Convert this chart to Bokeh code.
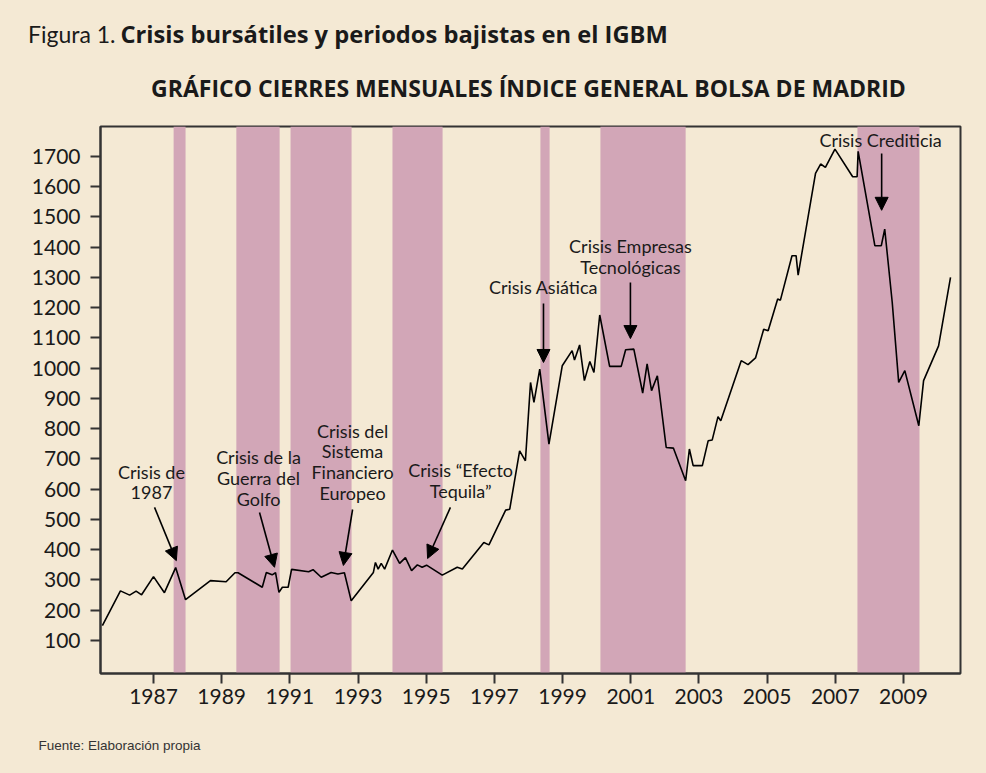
from bokeh.plotting import figure
from bokeh.models import Range1d, Arrow, NormalHead, FixedTicker
from bokeh.layouts import column, row
from bokeh.core.properties import value
from bokeh.embed import file_html
from bokeh.resources import INLINE

# ---- data ----
years = [1985.50, 1986.03, 1986.30, 1986.49, 1986.65, 1987.00, 1987.32, 1987.65, 1987.94,
         1988.67, 1989.13, 1989.39, 1989.48, 1990.19, 1990.31, 1990.48, 1990.58, 1990.68,
         1990.78, 1990.95, 1991.05, 1991.55, 1991.68, 1991.92, 1992.21, 1992.41, 1992.60,
         1992.80, 1993.45, 1993.51, 1993.59, 1993.68, 1993.78, 1994.01, 1994.22, 1994.39,
         1994.57, 1994.74, 1994.88, 1995.01, 1995.47, 1995.91, 1996.06, 1996.69, 1996.84,
         1997.33, 1997.45, 1997.74, 1997.91, 1998.06, 1998.16, 1998.33, 1998.60, 1998.99,
         1999.28, 1999.35, 1999.50, 1999.64, 1999.80, 1999.92, 2000.09, 2000.38, 2000.72,
         2000.85, 2001.09, 2001.35, 2001.48, 2001.61, 2001.78, 2002.04, 2002.25, 2002.61,
         2002.72, 2002.83, 2003.10, 2003.27, 2003.39, 2003.56, 2003.64, 2004.24, 2004.44,
         2004.66, 2004.90, 2005.03, 2005.31, 2005.39, 2005.73, 2005.85, 2005.91, 2006.42,
         2006.57, 2006.71, 2006.99, 2007.51, 2007.64, 2007.67, 2008.16, 2008.35, 2008.45,
         2008.67, 2008.86, 2009.04, 2009.45, 2009.59, 2010.03, 2010.38]
igbm = [149, 264, 250, 263, 251, 311, 258, 341, 235,
        298, 294, 324, 324, 276, 325, 317, 324, 259,
        276, 276, 335, 327, 334, 309, 325, 320, 324,
        231, 325, 358, 336, 355, 336, 399, 355, 374,
        331, 350, 342, 349, 316, 342, 336, 424, 416,
        531, 534, 727, 694, 953, 887, 997, 749, 1008,
        1058, 1027, 1077, 959, 1022, 986, 1176, 1006, 1006,
        1061, 1063, 918, 1014, 926, 975, 738, 736, 628,
        733, 678, 678, 760, 763, 840, 826, 1025, 1012,
        1034, 1129, 1124, 1229, 1225, 1372, 1372, 1308, 1644,
        1675, 1664, 1724, 1633, 1633, 1717, 1405, 1405, 1460,
        1218, 953, 992, 810, 959, 1074, 1300]

crisis_start = [1987.59, 1989.43, 1991.02, 1994.01, 1998.35, 2000.11, 2007.65]
crisis_end = [1987.94, 1990.70, 1992.81, 1995.48, 1998.62, 2002.61, 2009.47]

x_ticks = [1987, 1989, 1991, 1993, 1995, 1997, 1999, 2001, 2003, 2005, 2007, 2009]
y_ticks = [100, 200, 300, 400, 500, 600, 700, 800, 900, 1000, 1100, 1200, 1300, 1400, 1500, 1600, 1700]

# annotation texts: (lines, text x, first line y, arrow start, arrow end)
notes = [
    (["Crisis de", "1987"], 1986.94, 657, (1987.03, 540), (1987.67, 364)),
    (["Crisis de la", "Guerra del", "Golfo"], 1990.08, 705, (1990.11, 523), (1990.55, 342)),
    (["Crisis del", "Sistema", "Financiero", "Europeo"], 1992.84, 794, (1992.84, 533), (1992.57, 348)),
    (["Crisis \u201cEfecto", "Tequila\u201d"], 1996.01, 662, (1995.71, 540), (1995.04, 371)),
    (["Crisis Asi\u00e1tica"], 1998.44, 1270, (1998.44, 1214), (1998.44, 1019)),
    (["Crisis Empresas", "Tecnol\u00f3gicas"], 2000.99, 1403, (2000.99, 1283), (2000.99, 1098)),
    (["Crisis Crediticia"], 2008.33, 1756, (2008.36, 1710), (2008.36, 1522)),
]

TITLE_A = "Figura 1."
TITLE_B = "Crisis burs\u00e1tiles y periodos bajistas en el IGBM"
SUBTITLE = "GR\u00c1FICO CIERRES MENSUALES \u00cdNDICE GENERAL BOLSA DE MADRID"
SOURCE = "Fuente: Elaboraci\u00f3n propia"

BG = "#F4E9D4"
BAND = "#D2A6B7"
INK = "#1a1a1a"
FONT = "Lato"
BOLD_FONT = "Open Sans"
W = 986
HEAD_H, MAIN_H = 110, 615
FOOT_H = 773 - HEAD_H - MAIN_H


def blank(h):
    f = figure(width=W, height=h, output_backend="svg", toolbar_location=None,
               x_range=Range1d(0, W), y_range=Range1d(h, 0),
               min_border=0, min_border_left=0, min_border_right=0,
               min_border_top=0, min_border_bottom=0,
               x_axis_type=None, y_axis_type=None)
    f.background_fill_color = BG
    f.border_fill_color = BG
    f.outline_line_color = None
    f.grid.grid_line_color = None
    return f


head = blank(HEAD_H)
head.text(x=[115], y=[33], text=[TITLE_A], text_align="right", text_baseline="middle",
          text_font=value(FONT), text_font_size="23px", text_color=INK)
head.text(x=[120], y=[33], text=[TITLE_B], text_align="left", text_baseline="middle",
          text_font=value(BOLD_FONT), text_font_style="bold", text_font_size="23.7px",
          text_color=INK)
head.text(x=[528], y=[87], text=[SUBTITLE], text_align="center", text_baseline="middle",
          text_font=value(BOLD_FONT), text_font_style="bold", text_font_size="23px",
          text_color=INK)

foot = blank(FOOT_H)
foot.text(x=[38], y=[745 - HEAD_H - MAIN_H], text=[SOURCE], text_align="left",
          text_baseline="middle", text_font=value("Liberation Sans"),
          text_font_size="13.5px", text_color="#333333")

Y0, Y1 = -9.1, 1799
p = figure(width=W, height=MAIN_H, output_backend="svg", toolbar_location=None,
           x_range=Range1d(1985.445, 2010.673), y_range=Range1d(Y0, Y1),
           min_border_left=100, min_border_right=26, min_border_top=126 - HEAD_H,
           min_border_bottom=MAIN_H - (673 - HEAD_H))
p.background_fill_color = BG
p.border_fill_color = BG
p.outline_line_color = "#333333"
p.outline_line_width = 2
p.outline_line_alpha = 1
p.grid.grid_line_color = None

p.quad(left=crisis_start, right=crisis_end, bottom=Y0, top=Y1,
       fill_color=BAND, line_color=None)
p.line(years, igbm, line_color="black", line_width=1.6)

lx, ly, lt = [], [], []
step = 69
for lines, tx, ty, a0, a1 in notes:
    for i, t in enumerate(lines):
        lx.append(tx)
        ly.append(ty - i * step)
        lt.append(t)
    p.add_layout(Arrow(end=NormalHead(size=13, fill_color="black", line_color="black"),
                       x_start=a0[0], y_start=a0[1], x_end=a1[0], y_end=a1[1],
                       line_color="black", line_width=1.6))
p.text(x=lx, y=ly, text=lt, text_align="center", text_baseline="middle",
       text_font=value(FONT), text_font_size="18px", text_color=INK)

for ax in (p.xaxis, p.yaxis):
    ax.axis_line_color = "#333333"
    ax.axis_line_width = 2
    ax.major_tick_line_color = "#333333"
    ax.major_tick_line_width = 2
    ax.major_tick_in = 0
    ax.major_tick_out = 10
    ax.minor_tick_line_color = None
    ax.major_label_text_font = FONT
    ax.major_label_text_font_size = "21px"
    ax.major_label_text_color = INK
p.xaxis.ticker = FixedTicker(ticks=x_ticks)
p.yaxis.ticker = FixedTicker(ticks=y_ticks)
p.xaxis.major_label_standoff = 5
p.yaxis.major_label_standoff = 10

layout = column(row(head, spacing=0), p, row(foot, spacing=0), spacing=0,
                styles={"background-color": BG})
open("out.html", "w").write(file_html(layout, INLINE))
